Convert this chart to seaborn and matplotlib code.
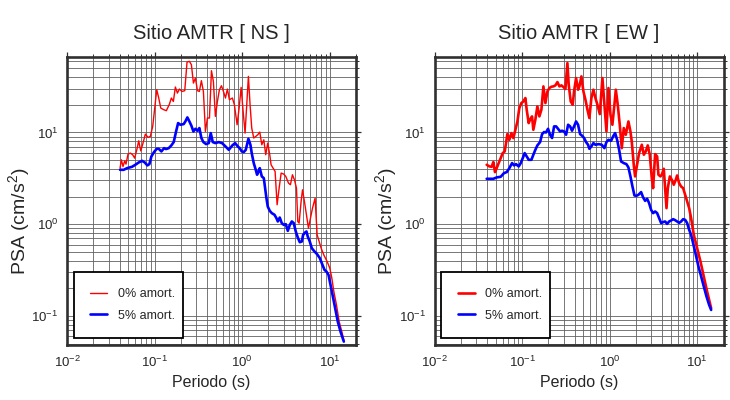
import numpy as np
import pandas as pd
import matplotlib
matplotlib.use("Agg")
import matplotlib.pyplot as plt
from matplotlib.ticker import LogLocator, NullFormatter, LogFormatterSciNotation
import seaborn as sns

# ---------------- data (log10 units) ----------------
titles = ["Sitio AMTR [ NS ]", "Sitio AMTR [ EW ]"]
series_labels = ["0% amort.", "5% amort."]
x_label = "Periodo (s)"
y_label = "PSA (cm/s$^2$)"

# NS component, 0% damping
ns_log10_period_0 = [
    -1.394, -1.379, -1.360, -1.341, -1.326, -1.303, -1.276, -1.250, -1.227, -1.200,
    -1.181, -1.158, -1.135, -1.105, -1.074, -1.048, -1.021, -0.998, -0.975, -0.952,
    -0.929, -0.895, -0.865, -0.830, -0.808, -0.785, -0.762, -0.739, -0.716, -0.686,
    -0.655, -0.629, -0.602, -0.579, -0.556, -0.533, -0.510, -0.488, -0.465, -0.442,
    -0.419, -0.396, -0.373, -0.350, -0.328, -0.305, -0.282, -0.259, -0.236, -0.213,
    -0.190, -0.168, -0.145, -0.111, -0.088, -0.057, -0.034, -0.011, 0.015, 0.034,
    0.053, 0.072, 0.091, 0.110, 0.133, 0.156, 0.179, 0.202, 0.225, 0.248,
    0.270, 0.293, 0.316, 0.331, 0.354, 0.377, 0.400, 0.423, 0.446, 0.476,
    0.499, 0.530, 0.552, 0.575, 0.598, 0.621, 0.636, 0.651, 0.674, 0.690,
    0.712, 0.735, 0.758, 0.781, 0.804, 0.834, 0.857, 0.880, 0.903, 0.933,
    0.971, 1.002, 1.025, 1.048, 1.078, 1.109, 1.139, 1.162]
ns_log10_psa_0 = [
    0.611, 0.702, 0.629, 0.691, 0.655, 0.764, 0.775, 0.757, 0.720, 0.822,
    0.909, 0.800, 0.873, 0.982, 0.946, 0.957, 1.066, 1.266, 1.466, 1.375,
    1.266, 1.248, 1.237, 1.309, 1.375, 1.338, 1.495, 1.429, 1.473, 1.447,
    1.455, 1.767, 1.775, 1.738, 1.538, 1.593, 1.455, 1.447, 1.564, 1.447,
    1.011, 1.157, 1.157, 1.673, 1.557, 1.175, 1.338, 1.466, 1.509, 1.447,
    1.375, 1.473, 1.357, 1.375, 1.302, 1.084, 1.266, 1.491, 1.193, 0.993,
    1.302, 1.611, 1.302, 1.048, 0.939, 0.957, 0.975, 1.004, 0.866, 0.920,
    0.757, 0.884, 0.757, 0.648, 0.611, 0.575, 0.212, 0.393, 0.557, 0.546,
    0.521, 0.448, 0.430, 0.539, 0.484, 0.393, 0.030, 0.012, 0.248, 0.375,
    0.248, 0.103, -0.043, 0.066, 0.175, 0.284, -0.116, -0.188, -0.261, -0.334,
    -0.406, -0.479, -0.588, -0.734, -0.879, -1.061, -1.170, -1.261]

# NS component, 5% damping
ns_log10_period_5 = [
    -1.394, -1.352, -1.314, -1.257, -1.219, -1.181, -1.143, -1.112, -1.082, -1.059,
    -1.036, -1.006, -0.975, -0.952, -0.922, -0.891, -0.869, -0.838, -0.808, -0.781,
    -0.754, -0.731, -0.705, -0.667, -0.648, -0.625, -0.602, -0.579, -0.556, -0.533,
    -0.510, -0.488, -0.465, -0.442, -0.411, -0.381, -0.358, -0.335, -0.305, -0.267,
    -0.229, -0.190, -0.152, -0.111, -0.080, -0.050, -0.027, -0.004, 0.019, 0.042,
    0.072, 0.095, 0.110, 0.133, 0.156, 0.171, 0.187, 0.202, 0.225, 0.248,
    0.263, 0.278, 0.293, 0.316, 0.339, 0.370, 0.392, 0.408, 0.430, 0.453,
    0.476, 0.499, 0.522, 0.545, 0.568, 0.590, 0.613, 0.636, 0.659, 0.682,
    0.697, 0.720, 0.735, 0.750, 0.773, 0.796, 0.827, 0.857, 0.888, 0.918,
    0.941, 0.964, 0.987, 1.010, 1.033, 1.063, 1.093, 1.124, 1.162]
ns_log10_psa_5 = [
    0.593, 0.593, 0.611, 0.626, 0.648, 0.673, 0.691, 0.673, 0.641, 0.655,
    0.739, 0.786, 0.822, 0.822, 0.793, 0.829, 0.819, 0.829, 0.859, 0.895,
    1.011, 1.102, 1.084, 1.091, 1.120, 1.164, 1.120, 1.073, 1.011, 1.040,
    1.019, 1.048, 0.939, 0.895, 0.873, 0.884, 0.993, 0.895, 0.884, 0.895,
    0.884, 0.848, 0.811, 0.859, 0.884, 0.848, 0.829, 0.793, 0.786, 0.811,
    0.931, 0.866, 0.775, 0.666, 0.593, 0.539, 0.575, 0.611, 0.521, 0.502,
    0.393, 0.284, 0.193, 0.146, 0.121, 0.103, 0.066, 0.030, 0.073, 0.012,
    -0.007, 0.001, -0.072, -0.007, 0.030, 0.012, -0.079, -0.145, -0.196, -0.188,
    -0.116, -0.090, -0.079, -0.134, -0.188, -0.261, -0.297, -0.327, -0.370, -0.443,
    -0.497, -0.516, -0.552, -0.661, -0.770, -0.915, -1.061, -1.170, -1.279]

# EW component, 0% damping
ew_log10_period_0 = [
    -1.404, -1.373, -1.347, -1.328, -1.309, -1.290, -1.267, -1.244, -1.221, -1.198,
    -1.183, -1.168, -1.145, -1.122, -1.099, -1.076, -1.053, -1.031, -1.008, -0.985,
    -0.962, -0.947, -0.924, -0.909, -0.886, -0.871, -0.848, -0.825, -0.802, -0.779,
    -0.756, -0.733, -0.710, -0.688, -0.665, -0.642, -0.619, -0.596, -0.573, -0.550,
    -0.528, -0.505, -0.482, -0.467, -0.444, -0.421, -0.406, -0.383, -0.360, -0.345,
    -0.322, -0.299, -0.276, -0.253, -0.231, -0.208, -0.185, -0.162, -0.139, -0.112,
    -0.082, -0.059, -0.036, -0.013, 0.010, 0.032, 0.055, 0.071, 0.093, 0.116,
    0.139, 0.162, 0.185, 0.215, 0.238, 0.253, 0.276, 0.291, 0.314, 0.337,
    0.368, 0.391, 0.413, 0.436, 0.459, 0.482, 0.497, 0.520, 0.543, 0.558,
    0.581, 0.596, 0.619, 0.634, 0.650, 0.665, 0.688, 0.711, 0.733, 0.756,
    0.771, 0.794, 0.817, 0.840, 0.863, 0.886, 0.909, 0.931, 0.962, 1.000,
    1.038, 1.076, 1.114, 1.160]
ew_log10_psa_0 = [
    0.648, 0.630, 0.626, 0.677, 0.568, 0.611, 0.666, 0.720, 0.775, 0.793,
    0.884, 0.982, 0.920, 0.993, 0.939, 1.029, 1.120, 1.266, 1.320, 1.338,
    1.375, 1.248, 1.102, 1.139, 1.175, 1.029, 1.139, 1.284, 1.175, 1.248,
    1.502, 1.320, 1.447, 1.484, 1.498, 1.502, 1.513, 1.549, 1.502, 1.513,
    1.495, 1.473, 1.756, 1.520, 1.338, 1.302, 1.447, 1.593, 1.466, 1.502,
    1.611, 1.447, 1.357, 1.248, 1.157, 1.375, 1.466, 1.375, 1.302, 1.200,
    1.593, 1.302, 1.011, 1.484, 1.193, 1.084, 1.302, 1.466, 1.302, 1.084,
    0.829, 1.048, 0.975, 1.120, 1.011, 0.902, 0.648, 0.521, 0.648, 0.775,
    0.866, 0.757, 0.793, 0.859, 0.757, 0.502, 0.393, 0.764, 0.739, 0.539,
    0.521, 0.539, 0.604, 0.393, 0.175, 0.393, 0.521, 0.484, 0.430, 0.484,
    0.531, 0.448, 0.411, 0.393, 0.321, 0.248, 0.175, 0.066, -0.116, -0.261,
    -0.406, -0.570, -0.734, -0.915]

# EW component, 5% damping
ew_log10_period_5 = [
    -1.404, -1.328, -1.290, -1.244, -1.206, -1.175, -1.145, -1.114, -1.091, -1.069,
    -1.038, -1.015, -0.992, -0.970, -0.947, -0.924, -0.893, -0.871, -0.848, -0.825,
    -0.794, -0.771, -0.749, -0.726, -0.703, -0.680, -0.657, -0.634, -0.611, -0.589,
    -0.566, -0.543, -0.520, -0.497, -0.474, -0.451, -0.429, -0.406, -0.383, -0.360,
    -0.337, -0.314, -0.291, -0.269, -0.246, -0.231, -0.208, -0.185, -0.162, -0.124,
    -0.090, -0.059, -0.036, -0.013, 0.017, 0.040, 0.063, 0.086, 0.109, 0.131,
    0.162, 0.192, 0.215, 0.238, 0.261, 0.284, 0.307, 0.330, 0.360, 0.383,
    0.406, 0.429, 0.451, 0.474, 0.497, 0.520, 0.543, 0.566, 0.589, 0.611,
    0.634, 0.657, 0.680, 0.703, 0.726, 0.749, 0.771, 0.794, 0.817, 0.840,
    0.863, 0.886, 0.909, 0.931, 0.954, 0.985, 1.015, 1.046, 1.076, 1.107,
    1.137, 1.160]
ew_log10_psa_5 = [
    0.495, 0.495, 0.510, 0.517, 0.557, 0.568, 0.611, 0.666, 0.641, 0.655,
    0.630, 0.666, 0.720, 0.775, 0.739, 0.702, 0.702, 0.757, 0.811, 0.859,
    0.895, 0.982, 1.004, 1.000, 1.040, 0.975, 0.939, 1.066, 1.066, 1.040,
    1.011, 1.019, 1.011, 0.975, 1.084, 1.066, 1.019, 1.066, 1.120, 1.084,
    0.982, 0.964, 0.939, 0.895, 0.866, 0.822, 0.848, 0.884, 0.866, 0.873,
    0.866, 0.829, 0.895, 0.920, 0.909, 0.957, 0.993, 0.920, 0.811, 0.684,
    0.666, 0.655, 0.619, 0.521, 0.412, 0.313, 0.310, 0.321, 0.350, 0.292,
    0.255, 0.277, 0.230, 0.157, 0.121, 0.139, 0.121, 0.066, 0.012, 0.023,
    0.030, 0.004, 0.030, 0.041, 0.055, 0.044, 0.030, 0.015, 0.030, 0.055,
    0.048, 0.012, -0.061, -0.116, -0.207, -0.334, -0.461, -0.570, -0.679, -0.788,
    -0.879, -0.934]

panels = [
    (ns_log10_period_0, ns_log10_psa_0, ns_log10_period_5, ns_log10_psa_5),
    (ew_log10_period_0, ew_log10_psa_0, ew_log10_period_5, ew_log10_psa_5),
]

# ---------------- style ----------------
sns.set_theme(style="white")
plt.rcParams["font.family"] = ["Liberation Sans", "DejaVu Sans"]
plt.rcParams["mathtext.fontset"] = "custom"
plt.rcParams["mathtext.rm"] = "Liberation Sans"
plt.rcParams["mathtext.it"] = "Liberation Sans:italic"
plt.rcParams["mathtext.bf"] = "Liberation Sans:bold"

red = "#ff0000"
blue = "#0000ff"
red_widths = [1.0, 1.9]
blue_width = 1.9

fig = plt.figure(figsize=(7.3, 4.0), dpi=100)
lefts = [67 / 730, 434.5 / 730]
W = 289 / 730
B = 55 / 400
H = 288 / 400

for i, (lt0, lp0, lt5, lp5) in enumerate(panels):
    ax = fig.add_axes([lefts[i], B, W, H])
    df0 = pd.DataFrame({"periodo": 10 ** np.array(lt0), "psa": 10 ** np.array(lp0)})
    df5 = pd.DataFrame({"periodo": 10 ** np.array(lt5), "psa": 10 ** np.array(lp5)})
    sns.lineplot(data=df0, x="periodo", y="psa", ax=ax, color=red, lw=red_widths[i],
                 label=series_labels[0], estimator=None, sort=False, zorder=3)
    sns.lineplot(data=df5, x="periodo", y="psa", ax=ax, color=blue, lw=blue_width,
                 label=series_labels[1], estimator=None, sort=False, zorder=3)
    ax.set_xscale("log")
    ax.set_yscale("log")
    ax.set_xlim(0.01, 20)
    ax.set_ylim(0.0483, 66.4)

    for axis in (ax.xaxis, ax.yaxis):
        axis.set_major_locator(LogLocator(base=10))
        axis.set_minor_locator(LogLocator(base=10, subs=np.arange(2, 10)))
        axis.set_minor_formatter(NullFormatter())
        axis.set_major_formatter(LogFormatterSciNotation())

    ax.grid(True, which="both", color="0.38", lw=0.6, zorder=0)
    ax.set_axisbelow(True)
    for s in ax.spines.values():
        s.set_linewidth(1.9)
        s.set_color("#303030")
        s.set_visible(True)
    ax.tick_params(which="major", direction="out", length=3.6, width=0.9, color="#303030",
                   top=True, right=True, labelsize=9.5, pad=2.6)
    ax.tick_params(which="minor", direction="out", length=2.2, width=0.7, color="#303030",
                   top=True, right=True)
    ax.tick_params(axis="x", which="major", pad=3.2)

    ax.set_title(titles[i], fontsize=14.5, pad=13)
    ax.set_xlabel(x_label, fontsize=11.5)
    ax.set_ylabel(y_label, fontsize=14)
    ax.xaxis.set_label_coords(0.5, -(382 - 345) / 288)
    ax.xaxis.label.set_va("center")
    ax.yaxis.set_label_coords(-48 / 289, (345 - 221) / 288)
    ax.yaxis.label.set_va("center")

    leg = ax.legend(loc="lower left", bbox_to_anchor=(0.024, 0.024, 0.376, 0.25),
                    mode="expand", borderaxespad=0, frameon=True, fancybox=False,
                    edgecolor="black", framealpha=1, fontsize=9,
                    borderpad=1.3, labelspacing=0.75, handlelength=1.35,
                    handletextpad=0.85)
    leg.get_frame().set_linewidth(1.3)
    leg.set_zorder(5)

fig.savefig("out.png", dpi=100)
